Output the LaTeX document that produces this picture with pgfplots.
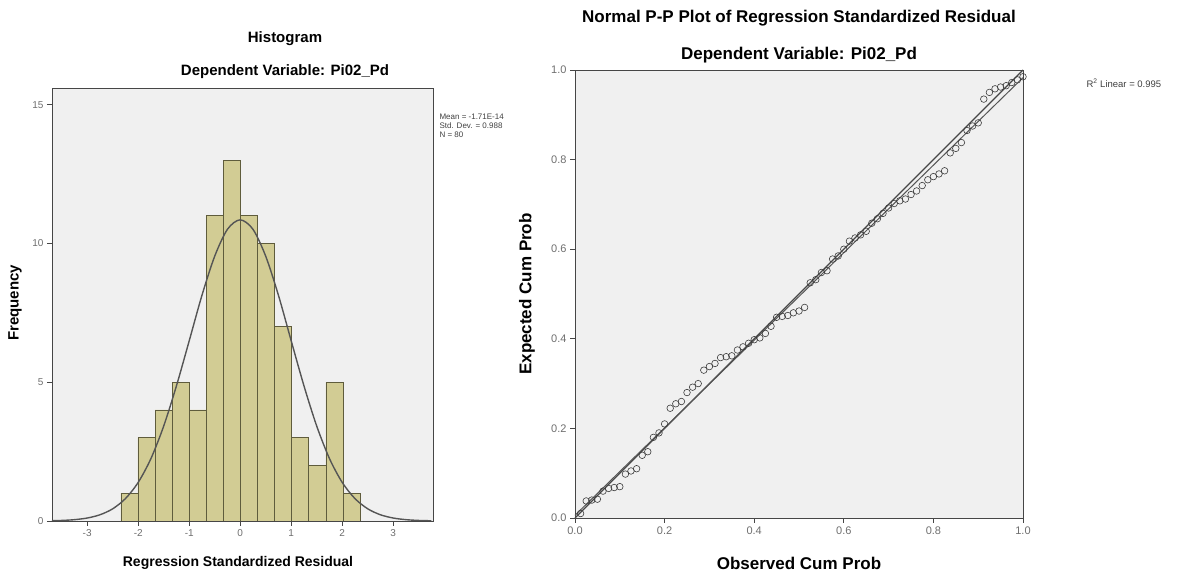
\documentclass[border=0pt]{standalone}
\usepackage{pgfplots}
\pgfplotsset{compat=1.18}
\usepackage{fontspec}
\setmainfont{Liberation Sans}
\definecolor{plotbg}{RGB}{240,240,240}
\definecolor{barfill}{RGB}{210,204,148}
\definecolor{baredge}{RGB}{95,92,60}
\definecolor{curve}{RGB}{85,85,85}
\definecolor{ticktext}{RGB}{110,110,110}
\definecolor{frame}{RGB}{70,70,70}
\definecolor{ptcol}{RGB}{60,60,60}

\pgfplotsset{
  spssaxis/.style={
    scale only axis,
    anchor=south west,
    axis background/.style={fill=plotbg},
    axis line style={draw=frame, line width=0.9pt},
    tick align=outside,
    major tick length=5pt,
    xtick pos=bottom, ytick pos=left,
    tick style={draw=frame, line width=0.8pt},
    tick label style={text=ticktext},
    /pgf/number format/assume math mode=true,
  },
}

\begin{document}
\begin{tikzpicture}
\useasboundingbox (0pt,0pt) rectangle (1192pt,573pt);

% ---------------- histogram ----------------
\begin{axis}[spssaxis,
  at={(52pt,52pt)}, width=381pt, height=433pt,
  xmin=-3.69, xmax=3.78, ymin=0, ymax=15.6,
  xtick={-3,-2,-1,0,1,2,3}, ytick={0,5,10,15},
  tick label style={font=\fontsize{10}{12}\selectfont},
]
  \addplot[ybar interval, fill=barfill, draw=baredge, line width=0.7pt]
    coordinates {
      (-2.340,1) (-2.005,3) (-1.670,4) (-1.335,5) (-1.000,4)
      (-0.665,11) (-0.330,13) (0.005,11) (0.340,10) (0.675,7)
      (1.010,3) (1.345,2) (1.680,5) (2.015,1) (2.350,0)};
  \addplot[curve, line width=1.4pt, smooth]
    coordinates {
      (-3.75,0.008) (-3.5,0.020) (-3.25,0.048) (-3.0,0.107) (-2.75,0.224)
      (-2.5,0.439) (-2.25,0.807) (-2.0,1.39) (-1.75,2.25) (-1.5,3.42)
      (-1.25,4.87) (-1.0,6.49) (-0.75,8.13) (-0.5,9.54) (-0.25,10.51)
      (0.0,10.85) (0.25,10.51) (0.5,9.54) (0.75,8.13) (1.0,6.49)
      (1.25,4.87) (1.5,3.42) (1.75,2.25) (2.0,1.39) (2.25,0.807)
      (2.5,0.439) (2.75,0.224) (3.0,0.107) (3.25,0.048) (3.5,0.020)
      (3.75,0.008)};
\end{axis}

\node[font=\fontsize{15}{17}\selectfont\bfseries] at (285pt,534pt) {Histogram};
\node[font=\fontsize{15}{17}\selectfont\bfseries] at (285pt,501pt) {Dependent Variable: Pi02\_Pd};
\node[font=\fontsize{14}{16}\selectfont\bfseries] at (238pt,10pt) {Regression Standardized Residual};
\node[font=\fontsize{15}{17}\selectfont\bfseries, rotate=90] at (15pt,270pt) {Frequency};
\node[font=\fontsize{8}{9}\selectfont, anchor=west, text=black!75] at (436pt,456pt) {Mean = -1.71E-14};
\node[font=\fontsize{8}{9}\selectfont, anchor=west, text=black!75] at (436pt,447pt) {Std. Dev. = 0.988};
\node[font=\fontsize{8}{9}\selectfont, anchor=west, text=black!75] at (436pt,438pt) {N = 80};

% ---------------- normal P-P plot ----------------
\begin{axis}[spssaxis,
  at={(575pt,55pt)}, width=448pt, height=448pt,
  xmin=0, xmax=1, ymin=0, ymax=1, clip=false,
  xtick={0,0.2,0.4,0.6,0.8,1}, ytick={0,0.2,0.4,0.6,0.8,1},
  tick label style={font=\fontsize{11}{13}\selectfont},
  /pgf/number format/.cd, fixed, fixed zerofill, precision=1,
]
  \addplot[frame, line width=1.3pt] coordinates {(0,0) (1,1)};
  \addplot[curve, line width=1.0pt] coordinates {(0,0.006) (1,0.983)};
  \addplot[only marks, mark=o, mark size=3.3pt, mark options={draw=ptcol, line width=0.6pt}]
    coordinates {
      (0.0125,0.010) (0.0250,0.038) (0.0375,0.040) (0.0500,0.042)
      (0.0625,0.060) (0.0750,0.066) (0.0875,0.068) (0.1000,0.070)
      (0.1125,0.098) (0.1250,0.105) (0.1375,0.110) (0.1500,0.140)
      (0.1625,0.148) (0.1750,0.180) (0.1875,0.190) (0.2000,0.210)
      (0.2125,0.245) (0.2250,0.255) (0.2375,0.260) (0.2500,0.280)
      (0.2625,0.292) (0.2750,0.300) (0.2875,0.330) (0.3000,0.338)
      (0.3125,0.345) (0.3250,0.358) (0.3375,0.360) (0.3500,0.362)
      (0.3625,0.375) (0.3750,0.382) (0.3875,0.390) (0.4000,0.398)
      (0.4125,0.402) (0.4250,0.412) (0.4375,0.428) (0.4500,0.448)
      (0.4625,0.450) (0.4750,0.452) (0.4875,0.458) (0.5000,0.462)
      (0.5125,0.470) (0.5250,0.525) (0.5375,0.532) (0.5500,0.548)
      (0.5625,0.552) (0.5750,0.578) (0.5875,0.585) (0.6000,0.600)
      (0.6125,0.618) (0.6250,0.625) (0.6375,0.632) (0.6500,0.640)
      (0.6625,0.658) (0.6750,0.668) (0.6875,0.680) (0.7000,0.692)
      (0.7125,0.702) (0.7250,0.708) (0.7375,0.712) (0.7500,0.722)
      (0.7625,0.730) (0.7750,0.742) (0.7875,0.755) (0.8000,0.762)
      (0.8125,0.768) (0.8250,0.775) (0.8375,0.815) (0.8500,0.825)
      (0.8625,0.838) (0.8750,0.865) (0.8875,0.875) (0.9000,0.882)
      (0.9125,0.935) (0.9250,0.950) (0.9375,0.958) (0.9500,0.962)
      (0.9625,0.965) (0.9750,0.972) (0.9875,0.978) (1.0000,0.985)};
\end{axis}

\node[font=\fontsize{17}{19}\selectfont\bfseries] at (799pt,555pt) {Normal P-P Plot of Regression Standardized Residual};
\node[font=\fontsize{17}{19}\selectfont\bfseries] at (799pt,518pt) {Dependent Variable: Pi02\_Pd};
\node[font=\fontsize{17}{19}\selectfont\bfseries] at (799pt,10pt) {Observed Cum Prob};
\node[font=\fontsize{17}{19}\selectfont\bfseries, rotate=90] at (527pt,279pt) {Expected Cum Prob};
\node[font=\fontsize{9.5}{11}\selectfont, anchor=west, text=black!75] at (1083pt,490pt) {R\textsuperscript{2} Linear = 0.995};
\end{tikzpicture}
\end{document}
